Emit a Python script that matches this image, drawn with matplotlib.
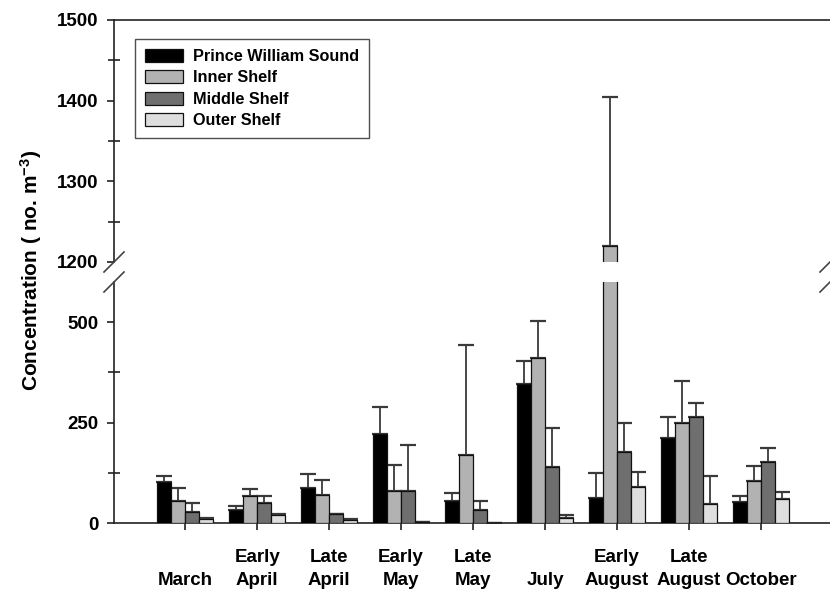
import matplotlib
matplotlib.use("Agg")
import matplotlib.pyplot as plt
import numpy as np
from matplotlib.lines import Line2D

plt.rcParams['font.family'] = ['Liberation Sans', 'DejaVu Sans']
plt.rcParams['font.weight'] = 'bold'
plt.rcParams['mathtext.fontset'] = 'custom'
plt.rcParams['mathtext.rm'] = 'Liberation Sans:bold'
plt.rcParams['mathtext.bf'] = 'Liberation Sans:bold'
plt.rcParams['mathtext.default'] = 'bf'

categories = ["\nMarch", "Early\nApril", "Late\nApril", "Early\nMay", "Late\nMay",
              "\nJuly", "Early\nAugust", "Late\nAugust", "\nOctober"]
series = ["Prince William Sound", "Inner Shelf", "Middle Shelf", "Outer Shelf"]

pws = [102, 33, 88, 221, 56, 346, 63, 211, 53]
pws_err = [16, 10, 33, 68, 19, 58, 62, 54, 15]
inner = [56, 66, 69, 80, 170, 411, 1220, 249, 104]
inner_err = [31, 18, 39, 65, 273, 93, 185, 105, 38]
middle = [28, 50, 23, 80, 33, 139, 178, 263, 152]
middle_err = [23, 16, 0, 113, 23, 97, 72, 37, 35]
outer = [9, 20, 8, 2, 0, 12, 89, 48, 60]
outer_err = [4, 3, 2, 0, 0, 7, 39, 68, 18]

values = [pws, inner, middle, outer]
errors = [pws_err, inner_err, middle_err, outer_err]
colors = ['#000000', '#b2b2b2', '#6f6f6f', '#dedede']

W_PX, H_PX = 830, 589
fig = plt.figure(figsize=(8.30, 5.89), dpi=100)

L = 114 / W_PX
Wd = (830 - 114) / W_PX
ax_top = fig.add_axes([L, 1 - 262 / H_PX, Wd, 242 / H_PX])
ax_bot = fig.add_axes([L, 1 - 523 / H_PX, Wd, 241 / H_PX])

x = np.arange(len(categories))
bw = 0.19
step = 0.195
offsets = [-1.5 * step, -0.5 * step, 0.5 * step, 1.5 * step]

for ax in (ax_top, ax_bot):
    for s, (vals, errs, c, off) in enumerate(zip(values, errors, colors, offsets)):
        ax.bar(x + off, vals, width=bw, color=c, edgecolor='#111111',
               linewidth=0.9, zorder=3, label=series[s])
        ax.errorbar(x + off, vals, yerr=[np.zeros(len(errs)), errs], fmt='none',
                    ecolor='#3a3a3a', elinewidth=1.3, capsize=5.5, capthick=1.6,
                    zorder=2)
    ax.set_xlim(-0.99, 8.96)
    ax.spines['right'].set_visible(False)
    for sp in ax.spines.values():
        sp.set_linewidth(1.2)
        sp.set_color('#222222')

ax_top.set_ylim(1200, 1500)
ax_bot.set_ylim(0, 600)

ax_top.spines['bottom'].set_visible(False)
ax_bot.spines['top'].set_visible(False)

ax_top.set_xticks([])
ax_top.set_yticks([1200, 1300, 1400, 1500])
ax_top.set_yticks([1250, 1350, 1450], minor=True)
ax_bot.set_yticks([0, 250, 500])
ax_bot.set_yticks([125, 375], minor=True)
ax_bot.set_xticks(x)
ax_bot.set_xticklabels(categories, fontsize=13.5, fontweight='bold', linespacing=1.42)

for ax in (ax_top, ax_bot):
    ax.tick_params(axis='y', which='major', direction='out', length=5, width=1.2,
                   labelsize=13.5, pad=6, colors='#222222', labelcolor='black')
    ax.tick_params(axis='y', which='minor', direction='inout', length=8.5, width=1.2,
                   colors='#222222')
ax_bot.tick_params(axis='x', which='major', direction='out', length=5, width=1.2,
                   pad=14, colors='#222222', labelcolor='black')

fig.text(31 / W_PX, 1 - 270 / H_PX, r"Concentration ( no. m$^{-3}$)",
         rotation=90, ha='center', va='center', fontsize=15, fontweight='bold')

leg = ax_top.legend(loc='upper left', bbox_to_anchor=(0.0293, 0.9215),
                    borderaxespad=0, fontsize=11.7, frameon=True, fancybox=False,
                    handlelength=2.35, handleheight=0.85, handletextpad=0.6,
                    labelspacing=0.38, borderpad=0.62)
leg.get_frame().set_edgecolor('#222222')
leg.get_frame().set_linewidth(1.0)
for t in leg.get_texts():
    t.set_fontweight('bold')

# break marks
d = 10
for xp in (114, 830):
    for yp in (262, 282):
        fig.add_artist(Line2D([(xp - d) / W_PX, (xp + d) / W_PX],
                              [1 - (yp + d) / H_PX, 1 - (yp - d) / H_PX],
                              transform=fig.transFigure, color='#444444',
                              linewidth=1.2, clip_on=False))

fig.savefig("out.png", dpi=100)
